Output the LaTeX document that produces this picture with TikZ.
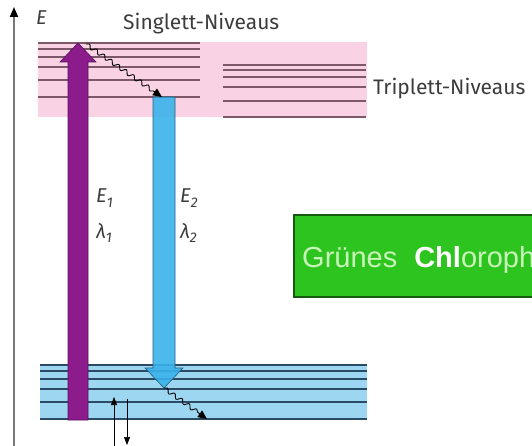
\documentclass[tikz,border=0pt]{standalone}
\usepackage{fontspec}
\setmainfont{Liberation Sans}
\newfontfamily\lblfont{Fira Sans}
\usetikzlibrary{decorations.pathmorphing,arrows.meta}
\definecolor{pinkband}{HTML}{F9D3E3}
\definecolor{pinkline}{HTML}{7D5868}
\definecolor{blueband}{HTML}{9DD6F0}
\definecolor{blueline}{HTML}{2B4A66}
\definecolor{purp}{HTML}{8C1C8C}
\definecolor{purpedge}{HTML}{5A105A}
\definecolor{cyanarr}{HTML}{3AB2EA}
\definecolor{cyanedge}{HTML}{1F5F80}
\definecolor{grn}{HTML}{2EC41F}
\definecolor{grnedge}{HTML}{145A10}
\definecolor{txtgrn}{HTML}{C8F5B8}
\definecolor{lbl}{HTML}{3C3C3C}
\definecolor{axisgray}{HTML}{777777}
\tikzset{
  lvlpink/.style={pinkline,line width=1.5pt},
  lvlblue/.style={blueline,line width=1.3pt},
  lbltext/.style={text=lbl,inner sep=0pt,font=\lblfont\fontsize{21}{21}\selectfont},
  symtext/.style={text=lbl,inner sep=0pt,font=\lblfont\itshape\fontsize{20}{20}\selectfont},
  wavy/.style={-{Triangle[length=9pt,width=8pt]},line width=0.9pt,decorate,
    decoration={snake,amplitude=2pt,segment length=9pt,post length=8pt}},
  small/.style={-{Triangle[length=8pt,width=6pt]},line width=0.7pt},
}
\newcommand{\subnum}[1]{\raisebox{-5pt}{\fontsize{14}{14}\selectfont #1}}
\begin{document}
\begin{tikzpicture}[x=1pt,y=-1pt]
\useasboundingbox (0,0) rectangle (532,446);
\begin{scope}
\clip (0,0) rectangle (532,446);
% bands
\fill[pinkband] (38,42) rectangle (367,117);
\foreach \y in {43,49,57,67,80,97} \draw[lvlpink] (38,\y) -- (200,\y);
\foreach \y in {65,70,77,87,101,117} \draw[lvlpink] (223,\y) -- (366,\y);
\fill[blueband] (40,365) rectangle (367,420);
\foreach \y in {365,371,379,389,402,419} \draw[lvlblue] (40,\y) -- (367,\y);
% axis
\coordinate (axb) at (14,446);
\coordinate (axt) at (14,7);
\draw[axisgray,line width=1.8pt,-{Triangle[length=10pt,width=8pt,color=black]}] (axb) -- (axt);
\node[symtext,anchor=base west] (E) at (36,25) {E};
% labels
\node[lbltext,anchor=base west] (sing) at (123,30) {Singlett-Niveaus};
\node[lbltext,anchor=base west] (trip) at (373,95) {Triplett-Niveaus};
% purple absorption arrow
\coordinate (ptip) at (78,43);
\fill[purp,draw=purpedge,line width=0.6pt] (68,420) -- (68,62) -- (60,62) -- (ptip) -- (96,62) -- (88,62) -- (88,420) -- cycle;
% blue emission arrow
\coordinate (btop) at (164,97);
\coordinate (btip) at (164,388);
\fill[cyanarr,draw=cyanedge,line width=0.6pt,fill opacity=0.9] (153,97) -- (153,368) -- (145,368) -- (btip) -- (183,368) -- (175,368) -- (175,97) -- cycle;
% wavy relaxation arrows
\coordinate (w1s) at (86,44);
\coordinate (w1e) at (162,97);
\draw[wavy] (w1s) -- (w1e);
\coordinate (w2e) at (207,419);
\draw[wavy] (btip) -- (w2e);
% small arrows
\coordinate (ua) at (114,446);
\coordinate (ub) at (114,397);
\draw[small] (ua) -- (ub);
\coordinate (da) at (127,399);
\coordinate (db) at (127,445);
\draw[small] (da) -- (db);
% energy labels
\node[symtext,anchor=base west] (e1) at (96,203) {E\subnum{1}};
\node[symtext,anchor=base west] (l1) at (96,238) {λ\subnum{1}};
\node[symtext,anchor=base west] (e2) at (180,203) {E\subnum{2}};
\node[symtext,anchor=base west] (l2) at (180,238) {λ\subnum{2}};
% green box
\draw[fill=grn,draw=grnedge,line width=1.6pt] (294,215) rectangle (560,297);
\node[anchor=base west,inner sep=0pt,text=txtgrn,font=\fontsize{29}{29}\selectfont] (chl) at (302,267) {Grünes\hspace{17pt}\textbf{\textcolor{white}{Chl}}orophyll};
\end{scope}
\end{tikzpicture}
\end{document}
